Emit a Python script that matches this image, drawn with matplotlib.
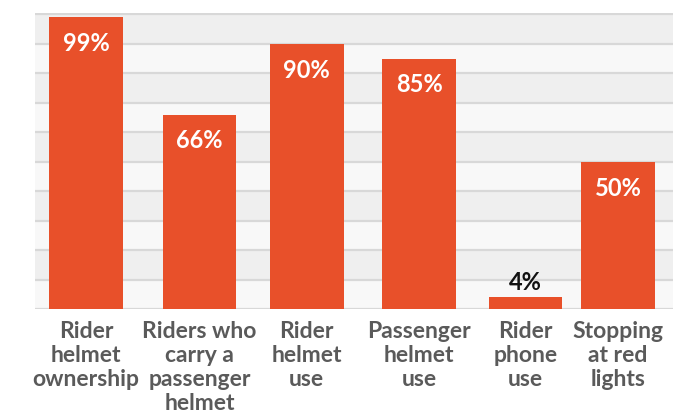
import matplotlib.pyplot as plt

# data
categories = ['Rider\nhelmet\nownership', 'Riders who\ncarry a\npassenger\nhelmet',
              'Rider\nhelmet\nuse', 'Passenger\nhelmet\nuse', 'Rider\nphone\nuse',
              'Stopping\nat red\nlights']
values = [99, 66, 90, 85, 4, 50]
value_labels = ['99%', '66%', '90%', '85%', '4%', '50%']

# slots are not evenly spaced in the original layout
slots = [0, 1.067, 2.073, 3.13, 4.13, 5.0]

bar_color = '#E8502A'
plt.rcParams['font.family'] = ['Lato', 'DejaVu Sans']

fig = plt.figure(figsize=(6.99, 4.17), dpi=100)
ax = fig.add_axes([0.050, 0.259, 0.913, 0.710])

# alternating bands between gridlines
for i, lo in enumerate(range(90, -10, -10)):
    ax.axhspan(lo, lo + 10, color='#efefef' if i % 2 == 0 else '#f8f8f8', lw=0, zorder=0)
for y in range(0, 101, 10):
    ax.axhline(y, color='#d8d8d8', lw=1.6, zorder=1)

ax.bar(slots, values, width=0.695, color=bar_color, zorder=2)

for xi, v, lab in zip(slots, values, value_labels):
    if v > 10:
        ax.annotate(lab, (xi, v), xytext=(0, -19), textcoords='offset points',
                    ha='center', va='center', color='white', fontsize=17, fontweight='bold')
    else:
        ax.annotate(lab, (xi, v), xytext=(0, 2), textcoords='offset points',
                    ha='center', va='bottom', color='#111111', fontsize=17, fontweight='bold')

ax.set_xlim(-0.479, 5.517)
ax.set_ylim(0, 100.5)
ax.set_xticks(slots)
ax.set_xticklabels(categories, fontsize=16.5, fontweight='bold', color='#5a5a5a',
                   linespacing=1.16)
ax.tick_params(axis='x', length=0, pad=9)
ax.set_yticks([])
for s in ax.spines.values():
    s.set_visible(False)

fig.savefig('out.png', dpi=100)
